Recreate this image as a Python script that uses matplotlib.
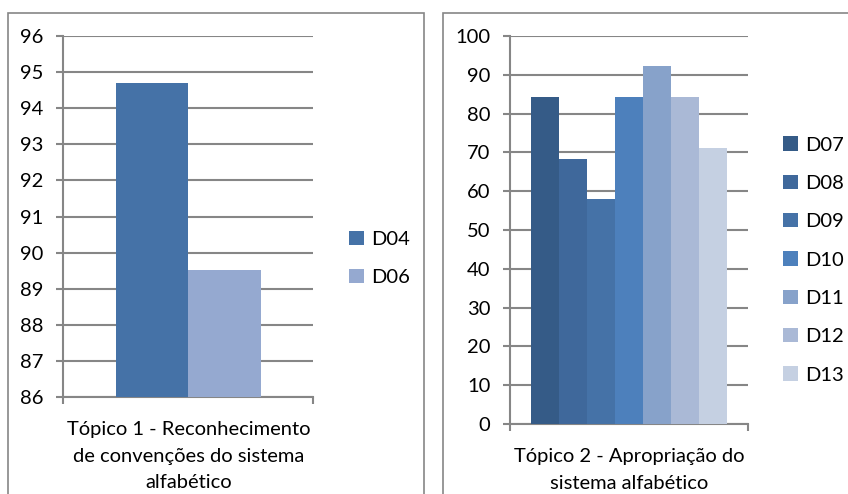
import matplotlib.pyplot as plt
from matplotlib.patches import Rectangle

plt.rcParams['font.family'] = ['Lato', 'DejaVu Sans']

# topic 1
t1_label = "Tópico 1 - Reconhecimento\nde convenções do sistema\nalfabético"
t1_names = ["D04", "D06"]
t1_values = [94.7, 89.52]
t1_colors = ["#4572a7", "#95a9d0"]
t1_ticks = [86, 87, 88, 89, 90, 91, 92, 93, 94, 95, 96]

# topic 2
t2_label = "Tópico 2 - Apropriação do\nsistema alfabético"
t2_names = ["D07", "D08", "D09", "D10", "D11", "D12", "D13"]
t2_values = [84.2, 68.4, 58.0, 84.2, 92.3, 84.2, 71.1]
t2_colors = ["#355b87", "#3f689b", "#4572a7", "#4d80bc", "#87a2ca", "#aab9d6", "#c5d0e2"]
t2_ticks = [0, 10, 20, 30, 40, 50, 60, 70, 80, 90, 100]

W, H = 848, 494
fig = plt.figure(figsize=(W / 100, H / 100), dpi=100)
grid_c = "#868686"
fs = 14.5


def box(x0, x1, y0, y1):
    # outer chart frame, pixel coords
    fig.patches.append(Rectangle((x0 / W, 1 - y1 / H), (x1 - x0) / W, (y1 - y0) / H,
                                 transform=fig.transFigure, fill=False,
                                 edgecolor=grid_c, linewidth=1.2))


def panel(rect, names, values, colors, ticks, bar_w, leg_xy):
    ax = fig.add_axes(rect)
    n = len(values)
    start = -bar_w * n / 2 + bar_w / 2
    for i in range(n):
        ax.bar(start + i * bar_w, values[i], width=bar_w, color=colors[i],
               label=names[i], zorder=3)
    ax.set_xlim(-0.5, 0.5)
    ax.set_ylim(ticks[0], ticks[-1])
    ax.set_yticks(ticks)
    # only the two category boundary ticks on the x axis
    ax.set_xticks([-0.5, 0.5])
    ax.set_xticklabels(["", ""])
    ax.yaxis.grid(True, color=grid_c, linewidth=1.5, zorder=0)
    for s in ["top", "right"]:
        ax.spines[s].set_visible(False)
    for s in ["left", "bottom"]:
        ax.spines[s].set_color(grid_c)
        ax.spines[s].set_linewidth(1.5)
    ax.tick_params(axis="both", color=grid_c, width=1.5, length=5, labelsize=fs)
    ax.tick_params(axis="y", pad=9)
    ax.legend(loc="center left", bbox_to_anchor=(leg_xy[0] / W, 1 - leg_xy[1] / H),
              bbox_transform=fig.transFigure, frameon=False, fontsize=fs,
              handlelength=0.72, handleheight=0.72, handletextpad=0.4,
              labelspacing=1.05, borderpad=0, borderaxespad=0)
    return ax


# left chart
box(8, 424, 13, 520)
ax1 = panel([63 / W, 1 - 397 / H, 250 / W, 361 / H], t1_names, t1_values, t1_colors,
            t1_ticks, 0.29, (349, 258.5))
fig.text(189 / W, 1 - 421 / H, t1_label, ha="center", va="top", fontsize=fs, linespacing=1.68)

# right chart
box(443, 870, 13, 520)
ax2 = panel([510 / W, 1 - 424 / H, 238 / W, 388 / H], t2_names, t2_values, t2_colors,
            t2_ticks, 0.118, (783, 260))
fig.text(629 / W, 1 - 448 / H, t2_label, ha="center", va="top", fontsize=fs, linespacing=1.68)

fig.savefig("out.png", dpi=100)
